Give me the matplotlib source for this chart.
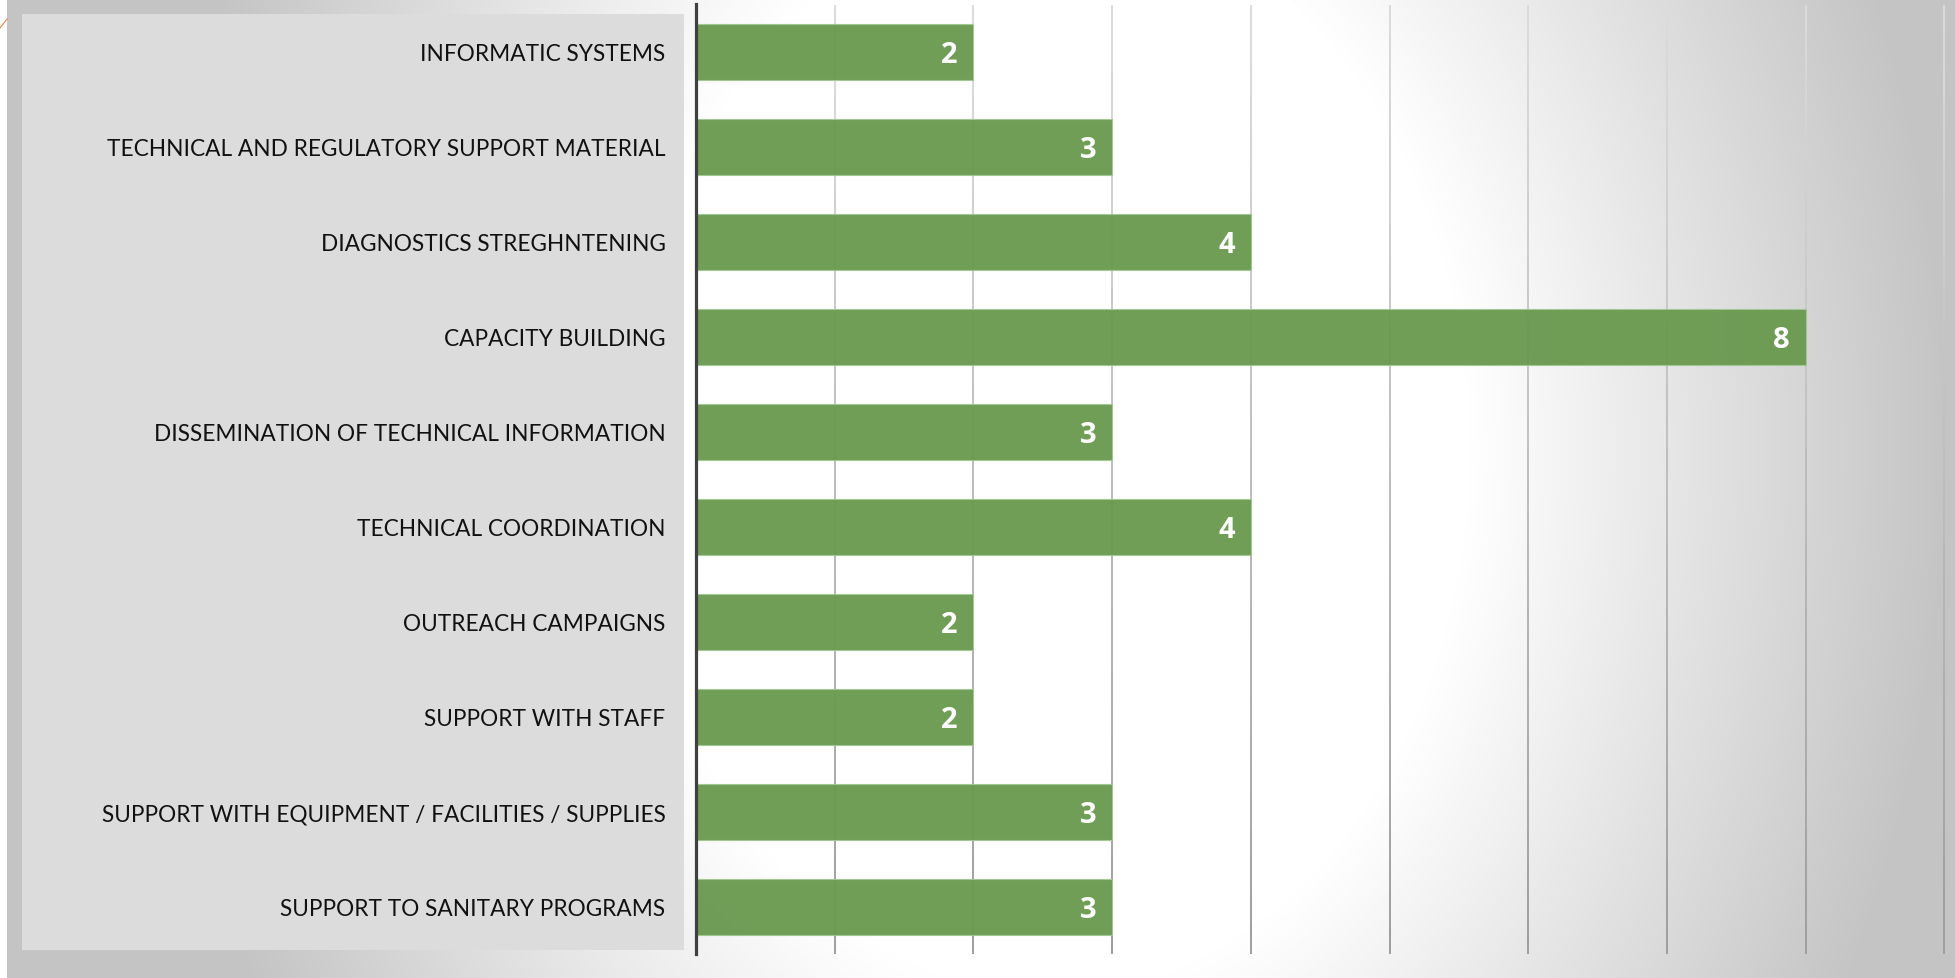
import matplotlib.pyplot as plt
import numpy as np
from matplotlib.collections import LineCollection
from matplotlib.patches import Rectangle

categories = [
    "INFORMATIC SYSTEMS",
    "TECHNICAL AND REGULATORY SUPPORT MATERIAL",
    "DIAGNOSTICS STREGHNTENING",
    "CAPACITY BUILDING",
    "DISSEMINATION OF TECHNICAL INFORMATION",
    "TECHNICAL COORDINATION",
    "OUTREACH CAMPAIGNS",
    "SUPPORT WITH STAFF",
    "SUPPORT WITH EQUIPMENT / FACILITIES / SUPPLIES",
    "SUPPORT TO SANITARY PROGRAMS",
]
counts = [2, 3, 4, 8, 3, 4, 2, 2, 3, 3]
x_ticks = [1, 2, 3, 4, 5, 6, 7, 8, 9]

W, H = 1956, 979
BAR_COLOR = "#6A9A50"

plt.rcParams["font.family"] = ["Lato", "DejaVu Sans"]

fig = plt.figure(figsize=(W / 100, H / 100), dpi=100)

# slide background: soft radial gradient, white in the middle
bg = fig.add_axes([0, 0, 1, 1], zorder=-10)
yy, xx = np.mgrid[0:H, 0:W]
d = np.sqrt((xx - 1050) ** 2 + ((yy - 450) / 1.3) ** 2)
shade = 255 - 59 * np.clip((d - 420) / 480.0, 0, 1)
shade[:, :7] = 255
img = np.dstack([shade, shade, shade]) / 255.0
bg.imshow(img, aspect="auto", extent=[0, W, H, 0], interpolation="bilinear")
bg.set_xlim(0, W)
bg.set_ylim(H, 0)
bg.axis("off")

# grey label panel and small corner mark
bg.add_patch(Rectangle((22, 15), 662, 936, facecolor="#DCDCDC", edgecolor="none"))
bg.plot([0, 7], [29, 20], color="#F08040", lw=0.8)

# chart axes
ax = fig.add_axes([696 / W, 23.5 / H, (1950 - 696) / W, (973.5 - 23.5) / H])
ax.patch.set_alpha(0)
y = np.arange(len(categories))
bars = ax.barh(y, counts, height=0.59, color=BAR_COLOR, alpha=0.96,
               edgecolor="#A2C892", linewidth=0.8, zorder=3)
ax.set_ylim(len(categories) - 0.5, -0.5)
ax.set_xlim(0, (1950 - 696) / 138.7)

# vertical gridlines, light at the top and darker towards the bottom
n_seg = 30
edges = np.linspace(-0.5, len(categories) - 0.5, n_seg + 1)
segs, cols = [], []
for xv in x_ticks:
    for i in range(n_seg):
        segs.append([(xv, edges[i]), (xv, edges[i + 1])])
        g = 0.86 - 0.24 * (i / (n_seg - 1))
        cols.append((g, g, g))
ax.add_collection(LineCollection(segs, colors=cols, linewidths=1.4, zorder=1))

ax.set_xticks([])
ax.set_yticks(y)
ax.set_yticklabels(categories, fontsize=16.3, color="#111111")
ax.tick_params(axis="y", length=0, pad=22)

for s in ["top", "right", "bottom"]:
    ax.spines[s].set_visible(False)
ax.spines["left"].set_color("#404040")
ax.spines["left"].set_linewidth(2.3)
ax.spines["left"].set_zorder(5)

for b, v in zip(bars, counts):
    ax.annotate(str(v), (b.get_width(), b.get_y() + b.get_height() / 2),
                xytext=(-11.5, -1.5), textcoords="offset points",
                ha="right", va="center", color="white",
                fontsize=21, fontweight="bold", family="Open Sans", zorder=6)

fig.savefig("out.png", dpi=100)
